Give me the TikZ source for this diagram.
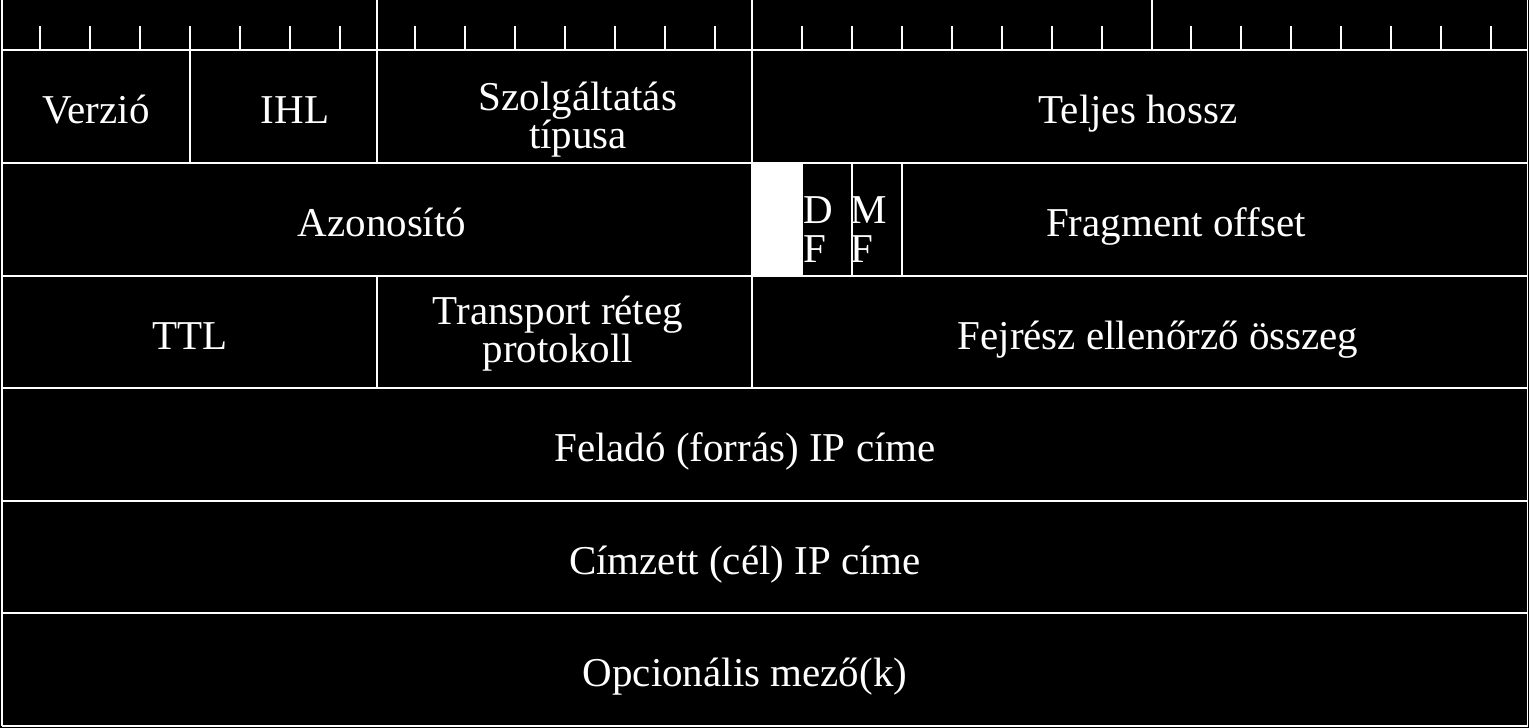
\documentclass[tikz,border=0pt]{standalone}
\usepackage{fontspec}
\setmainfont{Liberation Serif}
\usetikzlibrary{positioning}

\begin{document}
\begin{tikzpicture}[x=1pt, y=-1pt,
    grid/.style={white, line width=1.8pt},
    field/.style={white, font=\fontsize{41}{38}\selectfont, inner sep=0pt, anchor=base, align=center},
    flag/.style={field, font=\fontsize{41}{39}\selectfont, anchor=base west, align=left}]

    % Background and frame size
    \fill[black] (0,0) rectangle (1529,728);
    \useasboundingbox (0,0) rectangle (1529,728);

    % Bit ruler on top
    \foreach \x in {2,377,752,1152,1527.5}
        \draw[grid] (\x,0) -- (\x,50);
    \foreach \x in {40,90,...,340,415,465,...,715,802,852,...,1102,1191,1241,...,1491}
        \draw[grid] (\x,26) -- (\x,50);

    % Row lines and outer border
    \foreach \y in {50,163,276,388,501,613,726}
        \draw[grid] (2,\y) -- (1527.5,\y);
    \draw[grid] (2,50) -- (2,726);
    \draw[grid] (1527.5,50) -- (1527.5,726);

    % Field borders in the first three rows
    \foreach \x in {190,377,752}
        \draw[grid] (\x,50) -- (\x,163);
    \foreach \x in {752,802,852,902}
        \draw[grid] (\x,163) -- (\x,276);
    \foreach \x in {377,752}
        \draw[grid] (\x,276) -- (\x,388);

    % Unused bit
    \fill[white] (752,163) rectangle (802,276);

    % Row 1
    \node[field] (verzio) at (96,123) {Verzió};
    \node[field] (ihl) at (295,123) {IHL};
    \node[field] (tos) at (578,148) {Szolgáltatás\\típusa};
    \node[field] (hossz) at (1138,123) {Teljes hossz};

    % Row 2
    \node[field] (azon) at (382,236) {Azonosító};
    \node[flag] (df) at (803,262) {D\\F};
    \node[flag] (mf) at (850,262) {M\\F};
    \node[field] (offset) at (1176,236) {Fragment offset};

    % Row 3
    \node[field] (ttl) at (190,349) {TTL};
    \node[field] (proto) at (558,362) {Transport réteg\\protokoll};
    \node[field] (chk) at (1158,349) {Fejrész ellenőrző összeg};

    % Addresses and options
    \node[field] (src) at (745,461) {Feladó (forrás) IP címe};
    \node[field] (dst) at (745,574) {Címzett (cél) IP címe};
    \node[field] (opt) at (745,686) {Opcionális mező(k)};

\end{tikzpicture}
\end{document}
